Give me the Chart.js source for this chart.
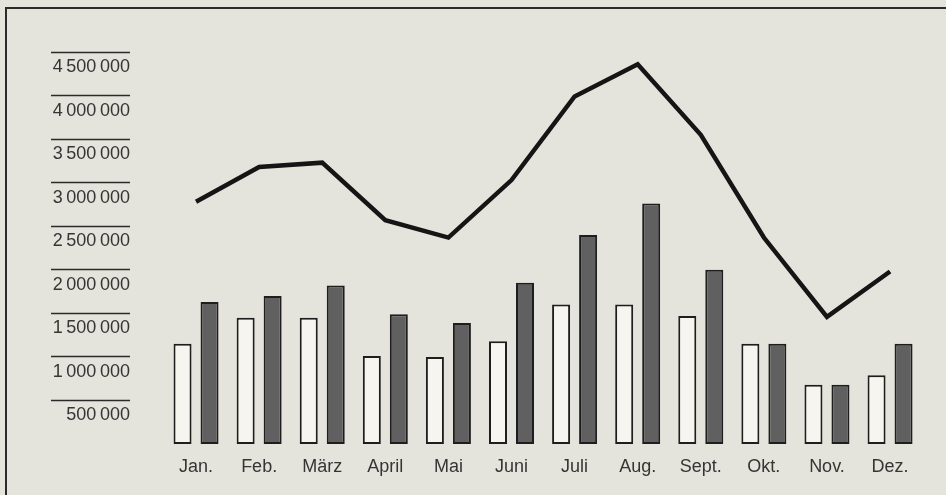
<!DOCTYPE html>
<html>
<head>
<meta charset="utf-8">
<script src="https://cdn.jsdelivr.net/npm/chart.js@4"></script>
<style>
  html, body { margin: 0; padding: 0; background: #e5e4dc; overflow: hidden; }
  #frame {
    position: absolute; left: 5px; top: 7px; width: 1000px; height: 600px;
    border-left: 2px solid #2b2b2b; border-top: 2px solid #2b2b2b;
  }
  #myChart { position: absolute; left: 0; top: 0; }
</style>
</head>
<body>
<div id="frame"></div>
<canvas id="myChart" width="946" height="495"></canvas>
<script>
// Months (x axis)
const months = ['Jan.', 'Feb.', 'März', 'April', 'Mai', 'Juni', 'Juli', 'Aug.', 'Sept.', 'Okt.', 'Nov.', 'Dez.'];

// White (outlined) bars
const whiteBars = [1150000, 1450000, 1450000, 1010000, 1000000, 1180000, 1600000, 1600000, 1470000, 1150000, 680000, 790000];

// Dark grey bars
const darkBars = [1630000, 1700000, 1820000, 1490000, 1390000, 1850000, 2400000, 2760000, 2000000, 1150000, 680000, 1150000];

// Black line
const lineValues = [2780000, 3180000, 3230000, 2570000, 2370000, 3030000, 3990000, 4360000, 3550000, 2370000, 1460000, 1980000];

// Y axis ticks and their labels
const yTicks = [500000, 1000000, 1500000, 2000000, 2500000, 3000000, 3500000, 4000000, 4500000];
const yTickLabels = ['500\u2009000', '1\u2009000\u2009000', '1\u2009500\u2009000', '2\u2009000\u2009000', '2\u2009500\u2009000',
                     '3\u2009000\u2009000', '3\u2009500\u2009000', '4\u2009000\u2009000', '4\u2009500\u2009000'];

const textColor = '#353535';
const inkColor = '#1e1e1e';
const font = { family: '"Liberation Sans", Arial, sans-serif', size: 18 };

const ctx = document.getElementById('myChart');

new Chart(ctx, {
    type: 'bar',
    data: {
        labels: months,
        datasets: [
            {
                type: 'line',
                data: lineValues,
                borderColor: '#151515',
                borderWidth: 4.5,
                pointRadius: 0,
                tension: 0,
                fill: false,
                order: 0,
                yAxisID: 'y'
            },
            {
                data: whiteBars,
                backgroundColor: '#f6f5f0',
                borderColor: inkColor,
                borderWidth: 2,
                borderSkipped: false,
                order: 1,
                yAxisID: 'y'
            },
            {
                data: darkBars,
                backgroundColor: '#606060',
                borderColor: inkColor,
                borderWidth: 2,
                borderSkipped: false,
                order: 1,
                yAxisID: 'y'
            }
        ]
    },
    options: {
        responsive: false,
        animation: false,
        datasets: {
            bar: { categoryPercentage: 0.856, barPercentage: 0.667 }
        },
        layout: {
            padding: { left: 0, right: 24.4, top: 52, bottom: 5.4 }
        },
        scales: {
            x: {
                offset: true,
                grid: { display: false, drawTicks: false },
                border: { display: false },
                ticks: { color: textColor, font: font, padding: 12 }
            },
            y: {
                type: 'linear',
                position: 'left',
                weight: 10,
                min: 0,
                max: 4500000,
                afterBuildTicks: scale => {
                    scale.ticks = yTicks.map(v => ({ value: v }));
                },
                afterFit: scale => { scale.width = 130; },
                grid: {
                    drawOnChartArea: false,
                    drawTicks: true,
                    tickLength: 79,
                    tickColor: '#2a2a2a',
                    tickWidth: 1.5
                },
                border: { display: false },
                ticks: {
                    color: textColor,
                    font: font,
                    padding: -79,
                    labelOffset: 15,
                    callback: v => yTickLabels[yTicks.indexOf(v)]
                }
            },
            // empty spacer between the tick marks and the bars
            gap: {
                type: 'linear',
                position: 'left',
                weight: 0,
                ticks: { display: false },
                grid: { display: false },
                border: { display: false },
                afterFit: scale => { scale.width = 34.5; }
            }
        },
        plugins: {
            legend: { display: false },
            tooltip: { enabled: false }
        }
    }
});
</script>
</body>
</html>
